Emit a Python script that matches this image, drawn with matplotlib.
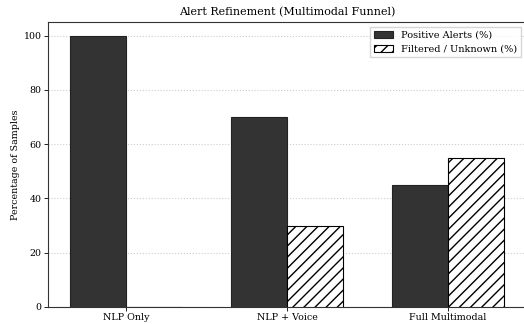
import numpy as np
import matplotlib
matplotlib.use("Agg")
import matplotlib.pyplot as plt

# Données
stages = ["NLP Only", "NLP + Voice", "Full Multimodal"]
positive = [100, 70, 45]
filtered = [0, 30, 55]

plt.rcParams['font.family'] = ['DejaVu Serif']

fig = plt.figure(figsize=(5.24, 3.24), dpi=100)
ax = fig.add_axes([48 / 524, 17 / 324, 478 / 524, 285 / 324])

x = np.arange(len(stages))
w = 0.35

ax.bar(x - w / 2, positive, w, color="#333333", edgecolor="#222222", linewidth=0.8,
       label="Positive Alerts (%)", zorder=3)
ax.bar(x + w / 2, filtered, w, color="white", edgecolor="black", linewidth=0.8,
       hatch="///", label="Filtered / Unknown (%)", zorder=3)

ax.set_xticks(x)
ax.set_xticklabels(stages, fontsize=6.8)
ax.tick_params(axis="both", labelsize=6.8, length=3, width=0.6, pad=1.5)
ax.set_ylabel("Percentage of Samples", fontsize=6.8, labelpad=3)
ax.set_title("Alert Refinement (Multimodal Funnel)", fontsize=8, pad=5)
ax.grid(axis="y", linestyle=":", color="#cccccc", linewidth=0.8, zorder=0)
for s in ax.spines.values():
    s.set_linewidth(0.8)
    s.set_color("#333333")
ax.legend(loc="upper right", fontsize=7, frameon=True, fancybox=False,
          borderaxespad=0.5, handlelength=2.0)

fig.savefig("out.png", dpi=100)
